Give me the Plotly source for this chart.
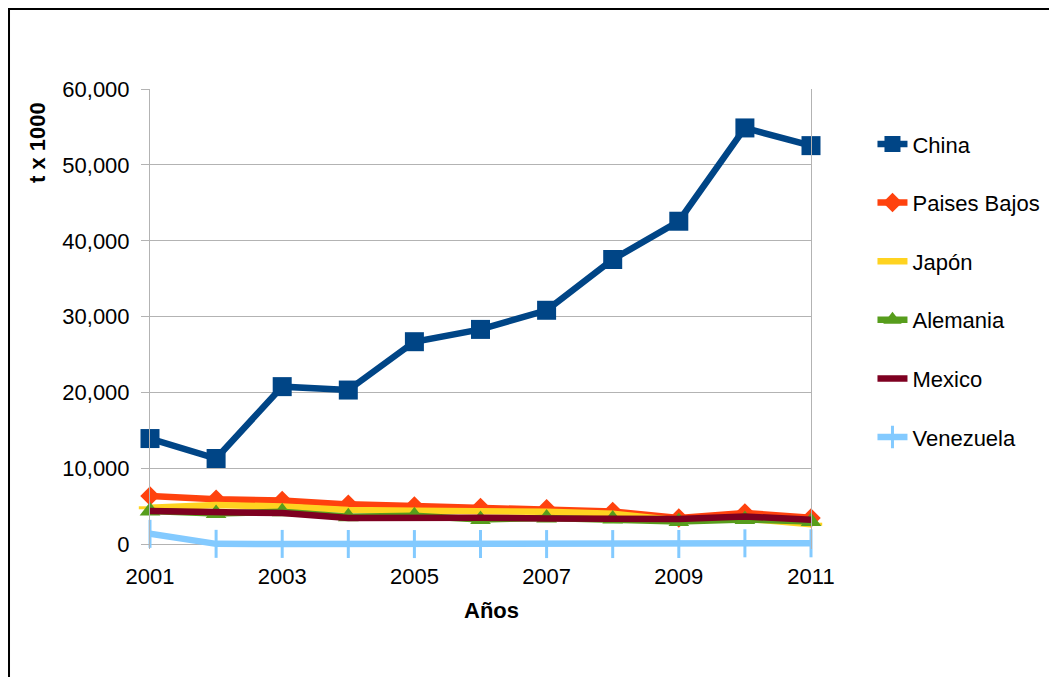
import plotly.graph_objects as go

years = list(range(2001, 2012))
series_names = ["China", "Paises Bajos", "Japón", "Alemania", "Mexico", "Venezuela"]
china = [13950, 11320, 20790, 20340, 26710, 28330, 30850, 37540, 42580, 54870, 52540]
paises_bajos = [6370, 5940, 5800, 5280, 5050, 4880, 4700, 4350, 3500, 4150, 3500]
japon = [4830, 5190, 5010, 4530, 4440, 4400, 4310, 4050, 3150, 3400, 2670]
alemania = [4400, 4090, 4300, 3650, 3780, 3300, 3470, 3340, 3030, 3300, 3030]
mexico = [4400, 4270, 4130, 3470, 3560, 3520, 3430, 3470, 3340, 3690, 3250]
venezuela = [1400, 80, 70, 60, 50, 60, 50, 50, 60, 150, 150]
y_ticks = [0, 10000, 20000, 30000, 40000, 50000, 60000]
x_ticks = [2001, 2003, 2005, 2007, 2009, 2011]

values = [china, paises_bajos, japon, alemania, mexico, venezuela]
colors = ["#004586", "#ff420e", "#ffd320", "#579d1c", "#7e0021", "#83caff"]
symbols = ["square", "diamond", "line-ew", "triangle-up", "circle", "line-ns"]
msizes = [19, 15, 16, 18, 0.1, 20]

FONT = "Liberation Sans, Arial, sans-serif"
FS = 22
fig = go.Figure()
for i, (name, vals) in enumerate(zip(series_names, values)):
    sym = symbols[i]
    marker = dict(symbol=sym, size=msizes[i], color=colors[i])
    if sym.startswith("line"):
        marker["line"] = dict(color=colors[i], width=3)
    fig.add_trace(go.Scatter(
        x=years, y=vals, name=name, mode="lines+markers",
        line=dict(color=colors[i], width=6.5),
        marker=marker, legendgroup=name, cliponaxis=False,
    ))

fig.update_layout(
    width=1057, height=677,
    margin=dict(l=142, r=254, t=81, b=136.45),
    paper_bgcolor="white", plot_bgcolor="white",
    font=dict(family=FONT, size=FS, color="black"),
    showlegend=True,
    legend=dict(x=1.093, y=0.9256, xanchor="left", yanchor="top",
                font=dict(size=FS), tracegroupgap=27,
                bgcolor="rgba(0,0,0,0)"),
    xaxis=dict(range=[2001, 2011], tickvals=x_ticks, showgrid=False,
               zeroline=False, showline=False, ticks="",
               ticklabelstandoff=12, tickfont=dict(size=FS)),
    yaxis=dict(range=[-600, 60000], tickvals=y_ticks, tickformat=",d",
               showgrid=True, gridcolor="#b3b3b3", gridwidth=1,
               zeroline=False, showline=True, mirror=True,
               linecolor="#b3b3b3", linewidth=1,
               ticks="outside", ticklen=8, tickcolor="#b3b3b3",
               ticklabelstandoff=7, tickfont=dict(size=FS)),
    annotations=[
        dict(text="<b>Años</b>", xref="paper", yref="paper", x=0.517, y=-0.1337,
             xanchor="center", yanchor="middle", showarrow=False,
             font=dict(size=FS)),
        dict(text="<b>t x 1000</b>", xref="paper", yref="paper", x=-0.171, y=0.8847,
             xanchor="center", yanchor="middle", showarrow=False, textangle=-90,
             font=dict(size=FS)),
    ],
    shapes=[
        dict(type="rect", xref="paper", yref="paper", x0=-0.2133, y0=-0.6,
             x1=1.6, y1=1.1741, line=dict(color="black", width=2),
             fillcolor="rgba(0,0,0,0)", layer="below"),
    ],
)

fig.write_html("out.html")
